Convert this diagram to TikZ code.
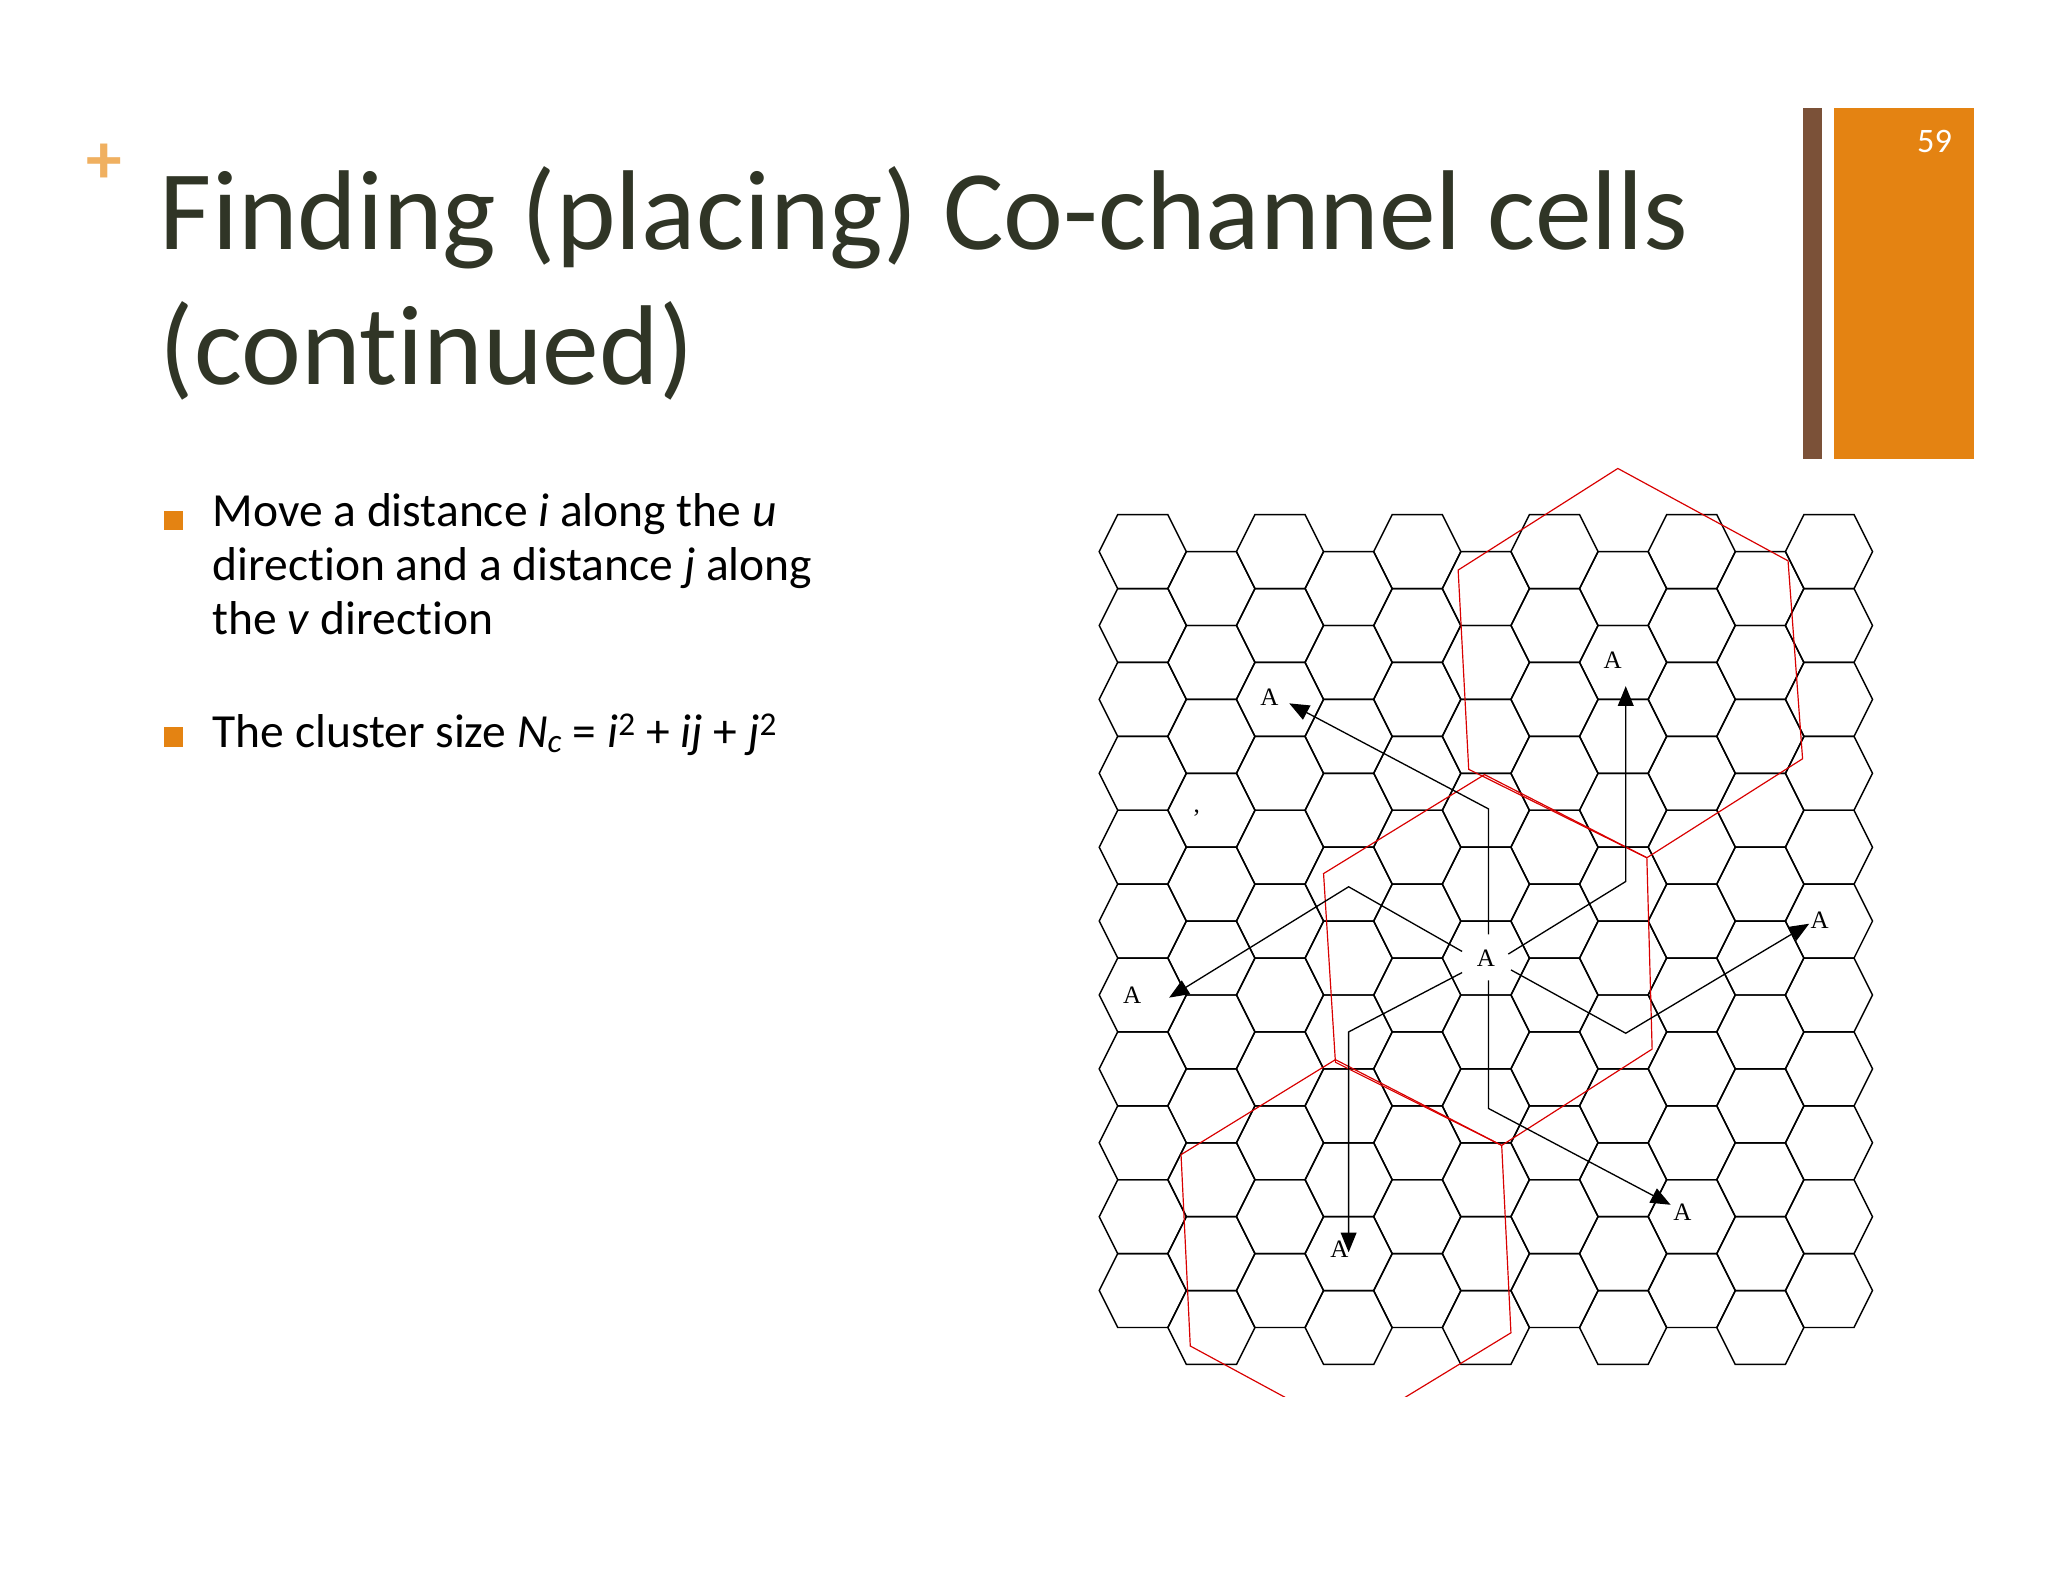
\documentclass[tikz,border=0pt]{standalone}
\usepackage{fontspec}
\setmainfont{Carlito}[Ligatures=NoCommon]
\newfontfamily\serifA{Liberation Serif}
\usetikzlibrary{arrows.meta}
\definecolor{orng}{HTML}{E48312}
\definecolor{brwn}{HTML}{7B5138}
\definecolor{plusc}{HTML}{F0B060}
\definecolor{ttl}{HTML}{303526}
\begin{document}
\begin{tikzpicture}[x=1pt,y=-1pt,
  hexe/.style={draw=black,line width=1.1pt},
  redh/.style={draw=red!85!black,line width=0.9pt},
  conn/.style={draw=black,line width=1pt},
  arr/.style={conn,-{Triangle[length=15pt,width=12pt]}},
  lab/.style={font=\serifA\fontsize{19}{19}\selectfont,inner sep=0pt},
  btxt/.style={anchor=west,inner sep=0pt,font=\fontsize{36}{41}\selectfont,align=left,text=black}]
\useasboundingbox (0,0) rectangle (1552,1199);
\fill[white] (0,0) rectangle (1552,1199);
% side bars
\fill[brwn] (1366,82) rectangle (1381,348);
\fill[orng] (1390,82) rectangle (1496,348);
\node[text=white,font=\fontsize{26}{26}\selectfont] (pg) at (1466,107) {59};
\node[text=plusc,font=\bfseries\fontsize{54}{54}\selectfont] (plus) at (79,124) {+};
% title
\node[anchor=north west,inner sep=0pt,text=ttl,align=left,font=\fontsize{86}{102}\selectfont] (title) at (121,126) {Finding (placing) Co-channel cells\\(continued)};
% bullets
\fill[orng] (124,387) rectangle (139,402);
\fill[orng] (124,551) rectangle (139,566);
\node[btxt,anchor=north west] (b1) at (161,374) {Move a distance \textit{i} along the \textit{u}\\direction and a distance \textit{j} along\\the \textit{v} direction};
\node[btxt] (b2) at (161,557) {The cluster size \textit{N}\textsubscript{\textit{c}} = \textit{i}\textsuperscript{2} + \textit{ij} + \textit{j}\textsuperscript{2}};
% hex grid
\foreach \c in {0,...,10}{
  \pgfmathsetmacro\cx{866+52*\c}
  \pgfmathsetmacro\oy{mod(\c,2)==0 ? 418 : 446}
  \foreach \k in {0,...,10}{
    \pgfmathsetmacro\cy{\oy+56*\k}
    \draw[hexe] (\cx-33,\cy) -- (\cx-19,\cy-28) -- (\cx+19,\cy-28) -- (\cx+33,\cy) -- (\cx+19,\cy+28) -- (\cx-19,\cy+28) -- cycle;
  }
}
% red clusters
\draw[redh] (1226,355) -- (1355,425) -- (1366,575) -- (1248,650) -- (1113,583) -- (1105,432) -- cycle;
\draw[redh] (1125,587) -- (1248,650) -- (1252,795) -- (1138,868) -- (1012,805) -- (1003,662) -- cycle;
\begin{scope}
\clip (800,700) rectangle (1300,1058);
\draw[redh] (1012,803) -- (1138,868) -- (1145,1010) -- (1022,1085) -- (902,1020) -- (895,875) -- cycle;
\end{scope}
% labels
\node[lab] (A0) at (1126,726) {A};
\node[lab] (A1) at (962,528) {A};
\node[lab] (A2) at (1222,500) {A};
\node[lab] (A3) at (1379,697) {A};
\node[lab] (A4) at (858,754) {A};
\node[lab] (A5) at (1275,919) {A};
\node[lab] (A6) at (1015,947) {A};
\node[lab] (cm) at (907,616) {,};
% bends
\coordinate (s1) at (1128,708); \coordinate (m1) at (1128,613); \coordinate (e1) at (977,533);
\coordinate (s2) at (1143,723); \coordinate (m2) at (1232,668); \coordinate (e2) at (1232,520);
\coordinate (s3) at (1145,735); \coordinate (m3) at (1232,783); \coordinate (e3) at (1371,700);
\coordinate (s4) at (1108,721); \coordinate (m4) at (1022,672); \coordinate (e4) at (886,756);
\coordinate (s5) at (1108,737); \coordinate (m5) at (1022,782); \coordinate (e5) at (1022,949);
\coordinate (s6) at (1128,743); \coordinate (m6) at (1128,840); \coordinate (e6) at (1266,913);
\draw[arr] (s1) -- (m1) -- (e1);
\draw[arr] (s2) -- (m2) -- (e2);
\draw[arr] (s3) -- (m3) -- (e3);
\draw[arr] (s4) -- (m4) -- (e4);
\draw[arr] (s5) -- (m5) -- (e5);
\draw[arr] (s6) -- (m6) -- (e6);
\end{tikzpicture}
\end{document}
